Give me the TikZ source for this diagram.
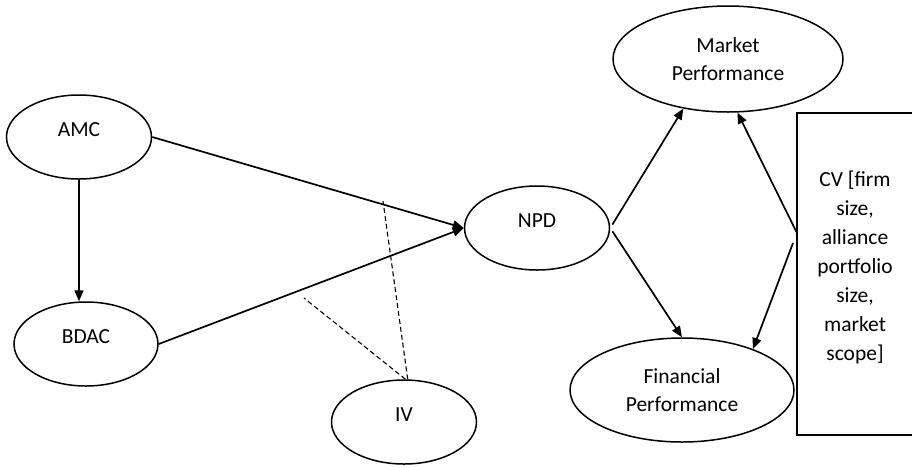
\documentclass[tikz,border=0pt]{standalone}
\usepackage{fontspec}
\setmainfont{Carlito}
\usetikzlibrary{shapes.geometric,arrows.meta}
\begin{document}
\begin{tikzpicture}[x=1pt,y=-1pt,
  ell/.style={draw, ellipse, line width=1.5pt, inner sep=0pt},
  lbl/.style={font=\fontsize{21.5}{29}\selectfont, align=center, yshift=7pt},
  lbltwo/.style={font=\fontsize{21.5}{28}\selectfont, align=center},
  arr/.style={line width=1.7pt, -{Triangle[length=11pt,width=9pt]}},
  dsh/.style={line width=1.1pt, dash pattern=on 5pt off 3pt}]
\useasboundingbox (0,0) rectangle (912,467);
\node[ell, minimum width=145, minimum height=84, label={[lbl]center:AMC}] (amc) at (79,137) {};
\node[ell, minimum width=144, minimum height=84, label={[lbl]center:BDAC}] (bdac) at (86,344) {};
\node[ell, minimum width=145, minimum height=84, label={[lbl]center:NPD}] (npd) at (537,228) {};
\node[ell, minimum width=145, minimum height=84, label={[lbl]center:IV}] (iv) at (404,422) {};
\node[ell, minimum width=230, minimum height=106, label={[lbltwo]center:{Market\\Performance}}] (mp) at (728,59) {};
\node[ell, minimum width=224, minimum height=104, label={[lbltwo]center:{Financial\\Performance}}] (fin) at (682,390) {};
\node[draw, line width=1.5pt, inner sep=0pt, minimum width=120, minimum height=322,
  label={[lbl,xshift=-2pt]center:{CV [firm\\size,\\alliance\\portfolio\\size,\\market\\scope]}}] (cv) at (857,274) {};
\coordinate (cvm) at (797,233);
\coordinate (cvf) at (793,243);
\coordinate (d1) at (383,201);
\coordinate (d2) at (304,298);
\draw[arr] (amc.south) -- (amc.south |- bdac.north);
\draw[arr] (amc.east) -- (npd.west);
\draw[arr] (bdac.east) -- (npd.west);
\draw[arr, shorten <=4pt] (npd.east) -- (mp.228);
\draw[arr, shorten <=4pt] (npd.east) -- (fin.north);
\draw[arr] (cvm) -- (mp.280);
\draw[arr] (cvf) -- (fin.30);
\draw[dsh] (iv.85) -- (d1);
\draw[dsh] (iv.88) -- (d2);
\end{tikzpicture}
\end{document}
